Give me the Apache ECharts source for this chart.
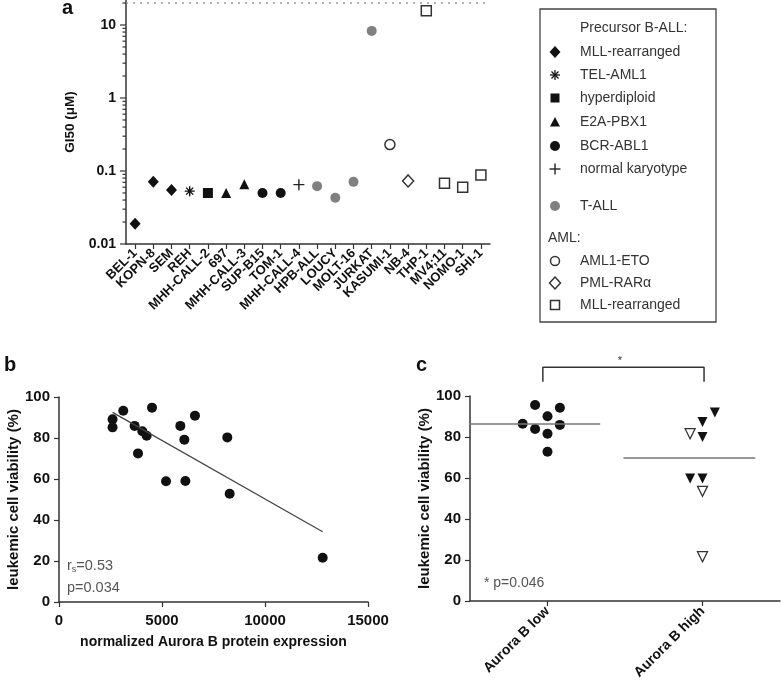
<!DOCTYPE html>
<html>
<head>
<meta charset="utf-8">
<script src="https://cdn.jsdelivr.net/npm/echarts@6/dist/echarts.min.js"></script>
<style>
html,body{margin:0;padding:0;background:#fff;}
#main{width:781px;height:689px;}
</style>
</head>
<body>
<div id="main"></div>
<script>
// ---- panel a: GI50 per cell line (log scale)
var cellLines = ['BEL-1','KOPN-8','SEM','REH','MHH-CALL-2','697','MHH-CALL-3','SUP-B15','TOM-1','MHH-CALL-4',
    'HPB-ALL','LOUCY','MOLT-16','JURKAT','KASUMI-1','NB-4','THP-1','MV4;11','NOMO-1','SHI-1'];
var gi50 = [0.019,0.071,0.055,0.053,0.050,0.050,0.066,0.050,0.050,0.065,
    0.062,0.043,0.071,8.3,0.23,0.073,15.7,0.068,0.060,0.088];
var subtype = ['mll','mll','mll','tel','hyper','e2a','e2a','bcr','bcr','normal',
    'tall','tall','tall','tall','eto','pml','amlMll','amlMll','amlMll','amlMll'];
var maxConc = 20;
var majorTicks = [0.01,0.1,1,10];
var minorTicks = [0.02,0.03,0.04,0.05,0.06,0.07,0.08,0.09,0.2,0.3,0.4,0.5,0.6,0.7,0.8,0.9,
    2,3,4,5,6,7,8,9,20];

// ---- panel b: viability vs Aurora B expression
var auroraExpr = [2600,2600,3120,3670,3835,4045,4255,4515,5195,5890,6085,6135,6600,8170,8285,12800];
var viability = [89.1,85.2,93.3,85.9,72.5,83.3,81.1,94.8,58.9,85.9,79.2,59.0,90.9,80.3,52.8,21.6];
var fitX = [2600,12800];
var fitY = [92.5,34.3];

// ---- panel c: low vs high groups
var groups = ['Aurora B low','Aurora B high'];
var lowX = [0.42,0.58,0.50,0.34,0.58,0.42,0.50,0.50];
var lowY = [95.6,94.3,90.1,86.5,85.9,83.9,81.6,72.8];
var highFilledX = [1.58,1.50,1.50,1.42,1.50];
var highFilledY = [92.0,87.3,80.0,59.8,59.8];
var highOpenX = [1.42,1.50,1.50];
var highOpenY = [81.6,53.5,21.6];
var medians = [86.3,69.8];

var FONT = 'Liberation Sans, Arial, sans-serif';
var AX = '#333';

var asterPath = 'path://M5,0L5,10M0,5L10,5M1.5,1.5L8.5,8.5M8.5,1.5L1.5,8.5';
var plusPath = 'path://M5,0L5,10M0,5L10,5';
var markers = {
    mll:    {symbol:'diamond', size:[11,12], fill:'#111', stroke:'#111', bw:0},
    tel:    {symbol:asterPath, size:10, fill:'#111', stroke:'#111', bw:1.4},
    hyper:  {symbol:'rect', size:10, fill:'#111', stroke:'#111', bw:0},
    e2a:    {symbol:'triangle', size:10, fill:'#111', stroke:'#111', bw:0},
    bcr:    {symbol:'circle', size:10, fill:'#111', stroke:'#111', bw:0},
    normal: {symbol:plusPath, size:11, fill:'#222', stroke:'#222', bw:1.4},
    tall:   {symbol:'circle', size:10, fill:'#808080', stroke:'#808080', bw:0},
    eto:    {symbol:'circle', size:10, fill:'#fff', stroke:'#333', bw:1.5},
    pml:    {symbol:'diamond', size:[11,12], fill:'#fff', stroke:'#333', bw:1.5},
    amlMll: {symbol:'rect', size:10, fill:'#fff', stroke:'#333', bw:1.5}
};

var series = [];
Object.keys(markers).forEach(function (key, k) {
    var m = markers[key];
    var data = [];
    for (var i = 0; i < cellLines.length; i++) {
        if (subtype[i] === key) data.push([i, gi50[i]]);
    }
    var s = {
        type:'scatter', xAxisIndex:0, yAxisIndex:0, name:key,
        symbol:m.symbol, symbolSize:m.size, data:data,
        itemStyle:{color:m.fill, borderColor:m.stroke, borderWidth:m.bw, opacity:1}
    };
    if (k === 0) {
        s.markLine = {
            silent:true, symbol:['none','none'], label:{show:false},
            lineStyle:{type:[2,5], color:'#999', width:1.5},
            data:[{yAxis:maxConc}]
        };
    }
    series.push(s);
});

// y ticks of the log axis (major + minor)
var tickData = majorTicks.map(function (v) { return [0, v, 6]; })
    .concat(minorTicks.map(function (v) { return [0, v, 3.5]; }));
series.push({
    type:'custom', xAxisIndex:0, yAxisIndex:0, silent:true, data:tickData,
    renderItem:function (params, api) {
        var p = api.coord([0, api.value(1)]);
        var x0 = params.coordSys.x;
        return {type:'line', shape:{x1:x0 - api.value(2), y1:p[1], x2:x0, y2:p[1]},
            style:{stroke:AX, lineWidth:1.2}};
    }
});

// panel b
series.push({
    type:'scatter', xAxisIndex:1, yAxisIndex:1, symbolSize:10,
    itemStyle:{color:'#111', opacity:1},
    data:auroraExpr.map(function (x, i) { return [x, viability[i]]; })
});
series.push({
    type:'line', xAxisIndex:1, yAxisIndex:1, symbol:'none', silent:true,
    lineStyle:{color:'#444', width:1.2},
    data:fitX.map(function (x, i) { return [x, fitY[i]]; })
});

// panel c
series.push({
    type:'scatter', xAxisIndex:3, yAxisIndex:2, symbolSize:10,
    itemStyle:{color:'#111', opacity:1},
    data:lowX.map(function (x, i) { return [x, lowY[i]]; })
});
series.push({
    type:'scatter', xAxisIndex:3, yAxisIndex:2, symbol:'triangle', symbolRotate:180, symbolSize:10,
    itemStyle:{color:'#111', opacity:1},
    data:highFilledX.map(function (x, i) { return [x, highFilledY[i]]; })
});
series.push({
    type:'scatter', xAxisIndex:3, yAxisIndex:2, symbol:'triangle', symbolRotate:180, symbolSize:10,
    itemStyle:{color:'#fff', borderColor:'#333', borderWidth:1.3, opacity:1},
    data:highOpenX.map(function (x, i) { return [x, highOpenY[i]]; })
});
medians.forEach(function (m, i) {
    series.push({
        type:'line', xAxisIndex:3, yAxisIndex:2, symbol:'none', silent:true,
        lineStyle:{color:'#777', width:1.5},
        data:[[i - 0.01, m], [i + 0.84, m]]
    });
});
// significance bracket
series.push({
    type:'line', xAxisIndex:3, yAxisIndex:2, symbol:'none', silent:true, clip:false,
    lineStyle:{color:'#333', width:1.5},
    data:[[0.47,107],[0.47,114],[1.51,114],[1.51,107]]
});

function axisLine() { return {show:true, lineStyle:{color:AX, width:1.5}}; }
function axisTick(len) { return {show:true, length:len || 5, lineStyle:{color:AX, width:1.2}}; }
function boldLabel(size) { return {color:'#111', fontWeight:'bold', fontSize:size, fontFamily:FONT}; }
function plainNum(v) { return String(v); }

// legend drawn as graphic
function legendMarker(key, cx, cy) {
    var m = markers[key];
    var st = {fill:m.fill, stroke:m.stroke, lineWidth:m.bw};
    if (m.symbol === 'diamond') {
        return {type:'polygon', shape:{points:[[cx,cy-6],[cx+5.5,cy],[cx,cy+6],[cx-5.5,cy]]}, style:st};
    } else if (m.symbol === 'rect') {
        return {type:'rect', shape:{x:cx-4.5, y:cy-4.5, width:9, height:9}, style:st};
    } else if (m.symbol === 'triangle') {
        return {type:'polygon', shape:{points:[[cx,cy-5],[cx+5,cy+4.5],[cx-5,cy+4.5]]}, style:st};
    } else if (m.symbol === 'circle') {
        return {type:'circle', shape:{cx:cx, cy:cy, r:m.bw ? 4.5 : 5}, style:st};
    } else if (m.symbol === plusPath) {
        return {type:'group', children:[
            {type:'line', shape:{x1:cx-5.5,y1:cy,x2:cx+5.5,y2:cy}, style:{stroke:'#222',lineWidth:1.4}},
            {type:'line', shape:{x1:cx,y1:cy-5.5,x2:cx,y2:cy+5.5}, style:{stroke:'#222',lineWidth:1.4}}]};
    }
    return {type:'group', children:[
        {type:'line', shape:{x1:cx-5,y1:cy,x2:cx+5,y2:cy}, style:{stroke:'#111',lineWidth:1.3}},
        {type:'line', shape:{x1:cx,y1:cy-5,x2:cx,y2:cy+5}, style:{stroke:'#111',lineWidth:1.3}},
        {type:'line', shape:{x1:cx-3.5,y1:cy-3.5,x2:cx+3.5,y2:cy+3.5}, style:{stroke:'#111',lineWidth:1.3}},
        {type:'line', shape:{x1:cx+3.5,y1:cy-3.5,x2:cx-3.5,y2:cy+3.5}, style:{stroke:'#111',lineWidth:1.3}}]};
}
var legendRows = [
    [null,'Precursor B-ALL:',28,580],
    ['mll','MLL-rearranged',52,580],
    ['tel','TEL-AML1',75,580],
    ['hyper','hyperdiploid',98,580],
    ['e2a','E2A-PBX1',122,580],
    ['bcr','BCR-ABL1',146,580],
    ['normal','normal karyotype',169,580],
    ['tall','T-ALL',206,580],
    [null,'AML:',238,548],
    ['eto','AML1-ETO',261,580],
    ['pml','PML-RARα',283,580],
    ['amlMll','MLL-rearranged',305,580]
];
var graphics = [
    {type:'rect', shape:{x:540, y:9, width:176, height:313}, style:{fill:'none', stroke:'#444', lineWidth:1.3}}
];
legendRows.forEach(function (r) {
    if (r[0]) graphics.push(legendMarker(r[0], 555, r[2]));
    graphics.push({type:'text', x:r[3], y:r[2], style:{text:r[1], fill:'#333', font:'14px ' + FONT,
        verticalAlign:'middle'}});
});
// panel letters and annotations
graphics.push({type:'text', x:62, y:8, style:{text:'a', fill:'#111', font:'bold 20px ' + FONT, verticalAlign:'middle'}});
graphics.push({type:'text', x:4, y:365, style:{text:'b', fill:'#111', font:'bold 20px ' + FONT, verticalAlign:'middle'}});
graphics.push({type:'text', x:416, y:365, style:{text:'c', fill:'#111', font:'bold 20px ' + FONT, verticalAlign:'middle'}});
graphics.push({type:'text', x:67, y:566, style:{
    rich:{a:{fontSize:14.5, fill:'#555', fontFamily:FONT}, s:{fontSize:9, fill:'#555', fontFamily:FONT, padding:[8,0,0,0]}},
    text:'{a|r}{s|s}{a|=0.53}', verticalAlign:'middle'}});
graphics.push({type:'text', x:67, y:588, style:{text:'p=0.034', fill:'#555', font:'14.5px ' + FONT, verticalAlign:'middle'}});
graphics.push({type:'text', x:484, y:583, style:{text:'* p=0.046', fill:'#555', font:'14px ' + FONT, verticalAlign:'middle'}});
graphics.push({type:'text', x:620, y:361, style:{text:'*', fill:'#333', font:'11px ' + FONT, align:'center', verticalAlign:'middle'}});

var option = {
    animation:false,
    textStyle:{fontFamily:FONT},
    grid:[
        {left:126, top:0, width:364, height:244},
        {left:59, top:397, width:309, height:205},
        {left:470, top:396, width:310, height:205}
    ],
    xAxis:[
        {type:'category', gridIndex:0, data:cellLines, boundaryGap:true,
            axisLine:axisLine(), axisTick:{show:true, alignWithLabel:true, length:5, lineStyle:{color:AX, width:1.2}},
            axisLabel:Object.assign({interval:0, rotate:45, margin:7}, boldLabel(13)),
            splitLine:{show:false}},
        {type:'value', gridIndex:1, min:0, max:15000, interval:5000,
            axisLine:axisLine(), axisTick:axisTick(5), splitLine:{show:false},
            axisLabel:Object.assign({margin:11, formatter:plainNum}, boldLabel(15)),
            name:'normalized Aurora B protein expression', nameLocation:'middle', nameGap:33,
            nameTextStyle:boldLabel(14)},
        {type:'category', gridIndex:2, data:groups, boundaryGap:true,
            axisLine:axisLine(), axisTick:{show:true, alignWithLabel:true, length:5, lineStyle:{color:AX, width:1.2}},
            axisLabel:Object.assign({interval:0, rotate:45, margin:8}, boldLabel(14)),
            splitLine:{show:false}},
        {type:'value', gridIndex:2, min:0, max:2, show:false}
    ],
    yAxis:[
        {type:'log', logBase:10, gridIndex:0, min:0.01, max:22,
            axisLine:axisLine(), axisTick:{show:false}, splitLine:{show:false}, minorTick:{show:false},
            axisLabel:Object.assign({margin:10, showMaxLabel:false, formatter:function (v) {
                var l = Math.log10(v);
                return Math.abs(l - Math.round(l)) < 1e-6 ? String(+v.toPrecision(2)) : '';
            }}, boldLabel(14)),
            name:'GI50 (μM)', nameLocation:'middle', nameGap:49,
            nameTextStyle:boldLabel(13.5)},
        {type:'value', gridIndex:1, min:0, max:100, interval:20,
            axisLine:axisLine(), axisTick:axisTick(5), splitLine:{show:false},
            axisLabel:Object.assign({margin:9}, boldLabel(15)),
            name:'leukemic cell viability (%)', nameLocation:'middle', nameGap:37,
            nameTextStyle:boldLabel(15)},
        {type:'value', gridIndex:2, min:0, max:100, interval:20,
            axisLine:axisLine(), axisTick:axisTick(5), splitLine:{show:false},
            axisLabel:Object.assign({margin:9}, boldLabel(15)),
            name:'leukemic cell viability (%)', nameLocation:'middle', nameGap:37,
            nameTextStyle:boldLabel(15)}
    ],
    graphic:graphics,
    series:series
};

var myChart = echarts.init(document.getElementById('main'));
myChart.setOption(option);
</script>
</body>
</html>
